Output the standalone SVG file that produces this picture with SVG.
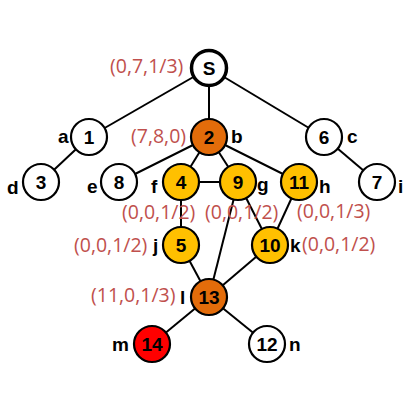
<svg xmlns="http://www.w3.org/2000/svg" width="415" height="415" viewBox="0 0 415 415">
<style>
.e{stroke:#000;stroke-width:2;fill:none}
.n circle{stroke:#000;stroke-width:2.2}
.w{fill:#fff}.o{fill:#E36C0A}.y{fill:#FFC000}.r{fill:#FF0000}
.t{font-family:"Liberation Sans",Arial,sans-serif;font-weight:bold;font-size:19px;text-anchor:middle;fill:#000}
.l{font-family:"Liberation Sans",Arial,sans-serif;font-weight:bold;font-size:19px;fill:#000}
.v{font-family:"Open Sans","Liberation Sans",sans-serif;font-size:19.5px;fill:#C0504D}
</style>
<rect width="415" height="415" fill="#fff"/>
<g id="edges">
<line class="e" x1="209" y1="68" x2="89" y2="137"/>
<line class="e" x1="209" y1="68" x2="209" y2="137"/>
<line class="e" x1="209" y1="68" x2="324" y2="137"/>
<line class="e" x1="89" y1="137" x2="41" y2="182"/>
<line class="e" x1="209" y1="137" x2="119" y2="182"/>
<line class="e" x1="209" y1="137" x2="181" y2="182"/>
<line class="e" x1="209" y1="137" x2="238" y2="182"/>
<line class="e" x1="209" y1="137" x2="299" y2="182"/>
<line class="e" x1="324" y1="137" x2="377" y2="182"/>
<line class="e" x1="181" y1="182" x2="238" y2="182"/>
<line class="e" x1="181" y1="182" x2="181" y2="245"/>
<line class="e" x1="238" y1="182" x2="270" y2="245"/>
<line class="e" x1="238" y1="182" x2="209" y2="297"/>
<line class="e" x1="299" y1="182" x2="270" y2="245"/>
<line class="e" x1="181" y1="245" x2="209" y2="297"/>
<line class="e" x1="270" y1="245" x2="209" y2="297"/>
<line class="e" x1="209" y1="297" x2="152" y2="344"/>
<line class="e" x1="209" y1="297" x2="267" y2="344"/>
</g>
<g id="nS" class="n"><circle class="w" cx="209" cy="68" r="17.5" style="stroke-width:3.5"/><text class="t" x="209" y="75">S</text><text class="v" x="110" y="73">(0,7,1/3)</text></g>
<g id="n1" class="n"><circle class="w" cx="89" cy="137" r="18"/><text class="t" x="89" y="144">1</text><text class="l" x="58" y="143">a</text></g>
<g id="n2" class="n"><circle class="o" cx="209" cy="137" r="18"/><text class="t" x="209" y="144">2</text><text class="l" x="231" y="143">b</text><text class="v" x="131" y="143">(7,8,0)</text></g>
<g id="n6" class="n"><circle class="w" cx="324" cy="137" r="18"/><text class="t" x="324" y="144">6</text><text class="l" x="347" y="143">c</text></g>
<g id="n3" class="n"><circle class="w" cx="41" cy="182" r="18"/><text class="t" x="41" y="189">3</text><text class="l" x="7" y="194">d</text></g>
<g id="n8" class="n"><circle class="w" cx="119" cy="182" r="18"/><text class="t" x="119" y="189">8</text><text class="l" x="87" y="193">e</text></g>
<g id="n4" class="n"><circle class="y" cx="181" cy="182" r="18"/><text class="t" x="181" y="189">4</text><text class="l" x="151" y="193">f</text><text class="v" x="122" y="219">(0,0,1/2)</text></g>
<g id="n9" class="n"><circle class="y" cx="238" cy="182" r="18"/><text class="t" x="238" y="189">9</text><text class="l" x="257" y="191">g</text><text class="v" x="205" y="219">(0,0,1/2)</text></g>
<g id="n11" class="n"><circle class="y" cx="299" cy="182" r="18"/><text class="t" x="299" y="189">11</text><text class="l" x="319" y="193">h</text><text class="v" x="297" y="218">(0,0,1/3)</text></g>
<g id="n7" class="n"><circle class="w" cx="377" cy="182" r="18"/><text class="t" x="377" y="189">7</text><text class="l" x="398" y="193">i</text></g>
<g id="n5" class="n"><circle class="y" cx="181" cy="245" r="18"/><text class="t" x="181" y="252">5</text><text class="l" x="153" y="252">j</text><text class="v" x="74" y="252">(0,0,1/2)</text></g>
<g id="n10" class="n"><circle class="y" cx="270" cy="245" r="18"/><text class="t" x="270" y="252">10</text><text class="l" x="290" y="252">k</text><text class="v" x="302" y="251">(0,0,1/2)</text></g>
<g id="n13" class="n"><circle class="o" cx="209" cy="297" r="18"/><text class="t" x="209" y="304">13</text><text class="l" x="180" y="304">l</text><text class="v" x="91" y="302">(11,0,1/3)</text></g>
<g id="n14" class="n"><circle class="r" cx="152" cy="344" r="18"/><text class="t" x="152" y="351">14</text><text class="l" x="112" y="351">m</text></g>
<g id="n12" class="n"><circle class="w" cx="267" cy="344" r="18"/><text class="t" x="267" y="351">12</text><text class="l" x="289" y="351">n</text></g>
</svg>
